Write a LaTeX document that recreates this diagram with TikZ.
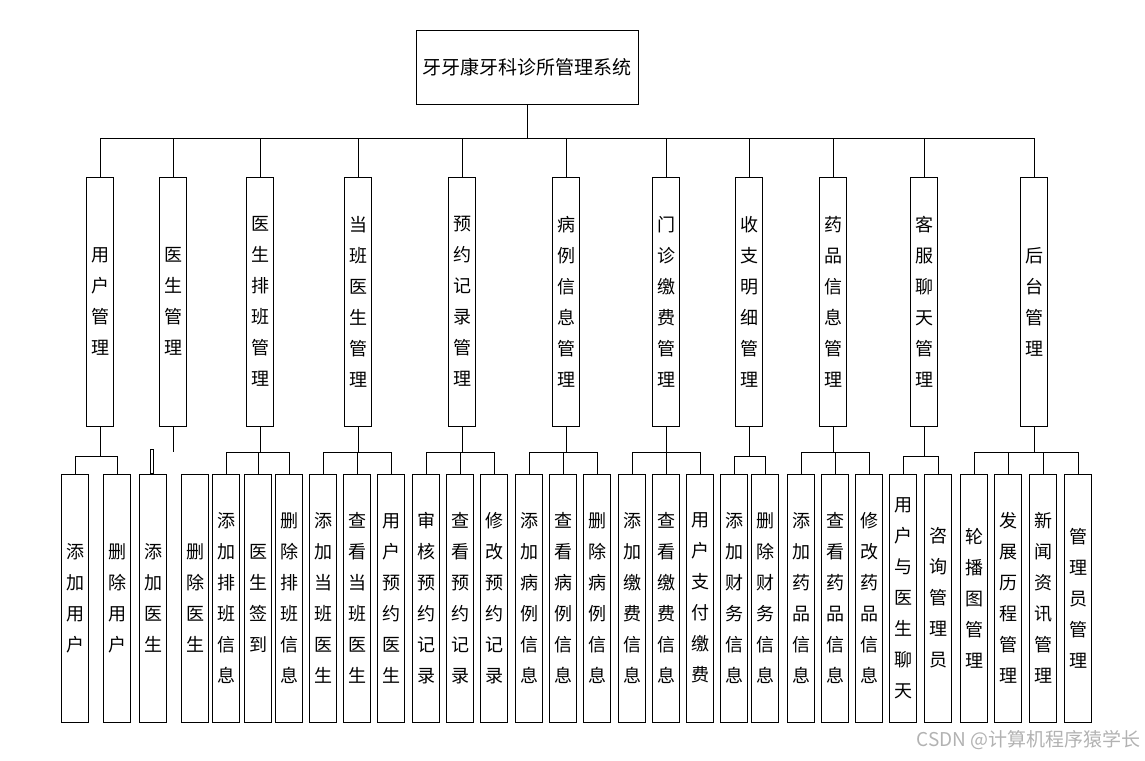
\documentclass[tikz,border=0pt]{standalone}
\usepackage{fontspec}
\setmainfont{Noto Sans CJK SC}
\begin{document}
\begin{tikzpicture}[x=1pt,y=-1pt,
  box/.style={draw,line width=1pt,minimum width=27pt,inner sep=0pt,align=center,font=\fontsize{18}{31}\selectfont},
  ln/.style={line width=1pt}]
\useasboundingbox (0,0) rectangle (1145,760);
\node[draw,line width=1pt,minimum width=222pt,minimum height=73pt,font=\fontsize{19}{22}\selectfont] (root) at (527,67.5) {牙牙康牙科诊所管理系统};
\foreach \n/\x/\t in {m1/100/用\\户\\管\\理, m2/173/医\\生\\管\\理, m3/260/医\\生\\排\\班\\管\\理, m4/358/当\\班\\医\\生\\管\\理, m5/462/预\\约\\记\\录\\管\\理, m6/566/病\\例\\信\\息\\管\\理, m7/666/门\\诊\\缴\\费\\管\\理, m8/749/收\\支\\明\\细\\管\\理, m9/833/药\\品\\信\\息\\管\\理, m10/924/客\\服\\聊\\天\\管\\理, m11/1034/后\\台\\管\\理}{
  \node[box,minimum height=249pt] (\n) at (\x,301.5) {\t};
  \draw[ln] (\n.north) -- (\n.north |- 0,138);
}
\draw[ln] (m1.north |- 0,138) -- (m11.north |- 0,138);
\draw[ln] (root.south) -- (root.south |- 0,138);
\foreach \n/\x/\t in {c1/75/添\\加\\用\\户, c2/117/删\\除\\用\\户, c3/153/添\\加\\医\\生, c4/195/删\\除\\医\\生, c5/226/添\\加\\排\\班\\信\\息, c6/258/医\\生\\签\\到, c7/289/删\\除\\排\\班\\信\\息, c8/323/添\\加\\当\\班\\医\\生, c9/357/查\\看\\当\\班\\医\\生, c10/391/用\\户\\预\\约\\医\\生, c11/426/审\\核\\预\\约\\记\\录, c12/460/查\\看\\预\\约\\记\\录, c13/494/修\\改\\预\\约\\记\\录, c14/529/添\\加\\病\\例\\信\\息, c15/563/查\\看\\病\\例\\信\\息, c16/597/删\\除\\病\\例\\信\\息, c17/632/添\\加\\缴\\费\\信\\息, c18/666/查\\看\\缴\\费\\信\\息, c19/700/用\\户\\支\\付\\缴\\费, c20/734/添\\加\\财\\务\\信\\息, c21/765/删\\除\\财\\务\\信\\息, c22/801/添\\加\\药\\品\\信\\息, c23/835/查\\看\\药\\品\\信\\息, c24/869/修\\改\\药\\品\\信\\息, c25/903/用\\户\\与\\医\\生\\聊\\天, c26/938/咨\\询\\管\\理\\员, c27/974/轮\\播\\图\\管\\理, c28/1008/发\\展\\历\\程\\管\\理, c29/1043/新\\闻\\资\\讯\\管\\理, c30/1078/管\\理\\员\\管\\理}{
  \node[box,minimum height=248pt] (\n) at (\x,598) {\t};
}
\foreach \p/\by/\a/\b/\cs in {m1/456/c1/c2/{c1,c2}, m3/452/c5/c7/{c5,c6,c7}, m4/452/c8/c10/{c8,c9,c10}, m5/452/c11/c13/{c11,c12,c13}, m6/452/c14/c16/{c14,c15,c16}, m7/452/c17/c19/{c17,c18,c19}, m8/456/c20/c21/{c20,c21}, m9/452/c22/c24/{c22,c23,c24}, m10/456/c25/c26/{c25,c26}, m11/452/c27/c30/{c27,c28,c29,c30}}{
  \draw[ln] (\p.south) -- (\p.south |- 0,\by);
  \draw[ln] (\a.north |- 0,\by) -- (\b.north |- 0,\by);
  \foreach \c in \cs { \draw[ln] (\c.north) -- (\c.north |- 0,\by); }
}
\draw[ln] (m2.south) -- ++(0,25) coordinate (m2end);
\draw[ln] (c3.north) ++(-3,0) rectangle ++(3,-24);
\node[font=\fontsize{19}{22}\selectfont,text=gray!60,anchor=east,inner sep=0pt] (wm) at (1141,740) {CSDN @计算机程序猿学长};
\end{tikzpicture}
\end{document}
